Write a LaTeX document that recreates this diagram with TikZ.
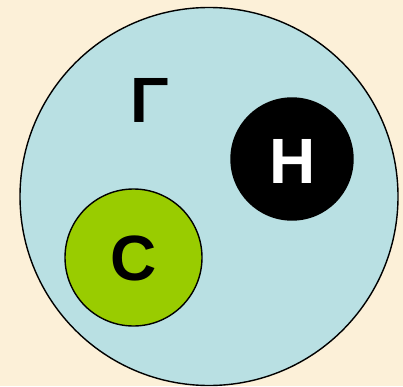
\documentclass[tikz,border=0pt]{standalone}
\usepackage{fontspec}
\setmainfont{Liberation Sans}
\definecolor{bgbeige}{HTML}{FCF0D8}
\definecolor{lightblue}{HTML}{B9E0E3}
\definecolor{limegreen}{HTML}{99CC00}
\tikzset{
  setcircle/.style={circle, draw=black, line width=1.4pt, inner sep=0pt},
  biglabel/.style={font=\bfseries\fontsize{64}{64}\selectfont, anchor=base, inner sep=0pt}
}
\begin{document}
\begin{tikzpicture}[x=1pt,y=1pt]
\fill[bgbeige] (0,0) rectangle (403,386);
\useasboundingbox (0,0) rectangle (403,386);
\node[setcircle, fill=lightblue, minimum size=378pt] (G) at (209,189.5) {};
\node[setcircle, fill=black, minimum size=122pt] (H) at (292,227) {};
\node[setcircle, fill=limegreen, minimum size=137pt] (C) at (133.5,128.5) {};
\node[biglabel] (Gl) at (150,263) {Γ};
\node[biglabel, text=white] (Hl) at (292.5,203) {H};
\node[biglabel] (Cl) at (133.5,105.5) {C};
\end{tikzpicture}
\end{document}
